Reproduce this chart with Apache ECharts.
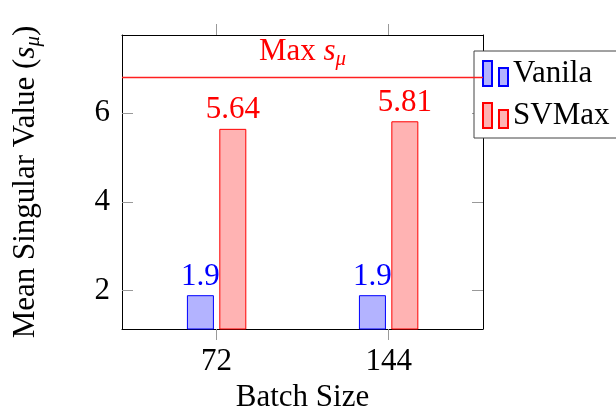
<!DOCTYPE html>
<html>
<head>
<meta charset="utf-8">
<script src="https://cdn.jsdelivr.net/npm/echarts@6/dist/echarts.min.js"></script>
<style>html,body{margin:0;padding:0;background:#fff}#c{width:616px;height:406px}</style>
</head>
<body>
<div id="c"></div>
<script>
const categories = [72, 144];
const vanila = [1.9, 1.9];
const svmax = [5.64, 5.81];
const maxLine = 6.8;
const yTicks = [2, 4, 6];
const xTicks = [72, 144];

const FONT = 'Liberation Serif';
const FS = 31;
const SUB = 21;

const chart = echarts.init(document.getElementById('c'), null, {renderer: 'canvas'});
const pairs = (vals) => categories.map((c, i) => [c, vals[i]]);
const iconPath = 'path://M0,0h9v25h-9z M16,7h9v18h-9z';

const xBase = {
  type: 'value', min: 32.4, max: 183.5,
  splitLine: {show: false},
  axisLine: {show: true, lineStyle: {color: '#000', width: 1}},
};
const yBase = {
  type: 'value', min: 1.14, max: 7.75,
  splitLine: {show: false},
  axisLine: {show: true, lineStyle: {color: '#000', width: 1}},
};

chart.setOption({
  animation: false,
  textStyle: {fontFamily: FONT},
  grid: {left: 122, right: 133, top: 35, bottom: 77, containLabel: false, outerBoundsMode: 'none'},
  xAxis: [
    Object.assign({}, xBase, {
      position: 'bottom',
      name: 'Batch Size', nameLocation: 'middle', nameGap: 50,
      nameTextStyle: {fontFamily: FONT, fontSize: FS, color: '#000'},
      axisTick: {show: true, inside: false, length: 11, lineStyle: {color: '#999'}, customValues: xTicks},
      axisLabel: {show: true, customValues: xTicks, margin: 17, fontFamily: FONT, fontSize: FS, color: '#000'}
    }),
    Object.assign({}, xBase, {
      position: 'top',
      axisTick: {show: true, inside: false, length: 11, lineStyle: {color: '#999'}, customValues: xTicks},
      axisLabel: {show: false}
    })
  ],
  yAxis: [
    Object.assign({}, yBase, {
      position: 'left',
      name: '{a|Mean Singular Value (}{b|s}{c|μ}{a|)}',
      nameLocation: 'middle', nameGap: 78, nameRotate: 90,
      nameTextStyle: {
        fontFamily: FONT, fontSize: FS, color: '#000',
        rich: {
          a: {fontFamily: FONT, fontSize: FS, color: '#000', lineHeight: 34, verticalAlign: 'top'},
          b: {fontFamily: FONT, fontSize: FS, fontStyle: 'italic', color: '#000', lineHeight: 34, verticalAlign: 'top'},
          c: {fontFamily: FONT, fontSize: SUB, fontStyle: 'italic', color: '#000', lineHeight: 21, verticalAlign: 'bottom', padding: [17, 0, 0, 0]}
        }
      },
      axisTick: {show: true, inside: true, length: 11, lineStyle: {color: '#999'}, customValues: yTicks},
      axisLabel: {show: true, customValues: yTicks, margin: 12, fontFamily: FONT, fontSize: FS, color: '#000'}
    }),
    Object.assign({}, yBase, {
      position: 'right',
      axisTick: {show: true, inside: true, length: 11, lineStyle: {color: '#999'}, customValues: yTicks},
      axisLabel: {show: false}
    })
  ],
  legend: {
    left: 474, top: 51, orient: 'vertical',
    padding: [6, 10, 6, 8],
    itemWidth: 25, itemHeight: 25, itemGap: 9,
    backgroundColor: '#fff', borderColor: '#444', borderWidth: 1, borderRadius: 0,
    textStyle: {fontFamily: FONT, fontSize: FS, color: '#000', lineHeight: 33},
    data: [{name: 'Vanila', icon: iconPath}, {name: 'SVMax', icon: iconPath}]
  },
  series: [
    {
      name: 'Vanila', type: 'bar', xAxisIndex: 0, yAxisIndex: 0,
      data: pairs(vanila), barWidth: 27, barGap: '20%',
      itemStyle: {color: '#b3b3ff', borderColor: '#0000ff', borderWidth: 1},
      label: {show: true, position: 'top', distance: 3, formatter: p => p.value[1],
        fontFamily: FONT, fontSize: FS, color: '#0000ff'}
    },
    {
      name: 'SVMax', type: 'bar', xAxisIndex: 0, yAxisIndex: 0,
      data: pairs(svmax), barWidth: 27, barGap: '20%',
      itemStyle: {color: '#ffb3b3', borderColor: '#ff0000', borderWidth: 1},
      label: {show: true, position: 'top', distance: 3, formatter: p => p.value[1],
        fontFamily: FONT, fontSize: FS, color: '#ff0000'},
      markLine: {
        silent: true, symbol: ['none', 'none'], animation: false,
        emphasis: {disabled: true},
        lineStyle: {color: '#ff2020', width: 1.4, type: 'solid', opacity: 1},
        label: {
          show: true, position: 'insideMiddleTop', distance: 7,
          formatter: '{a|Max }{b|s}{c|μ}',
          rich: {
            a: {fontFamily: FONT, fontSize: FS, color: '#ff0000', lineHeight: 34, verticalAlign: 'top'},
            b: {fontFamily: FONT, fontSize: FS, fontStyle: 'italic', color: '#ff0000', lineHeight: 34, verticalAlign: 'top'},
            c: {fontFamily: FONT, fontSize: SUB, fontStyle: 'italic', color: '#ff0000', lineHeight: 21, verticalAlign: 'bottom', padding: [17, 0, 0, 0]}
          }
        },
        data: [{yAxis: maxLine, lineStyle: {color: '#ff2020', width: 1.4, type: 'solid'}}]
      }
    }
  ]
});
</script>
</body>
</html>
